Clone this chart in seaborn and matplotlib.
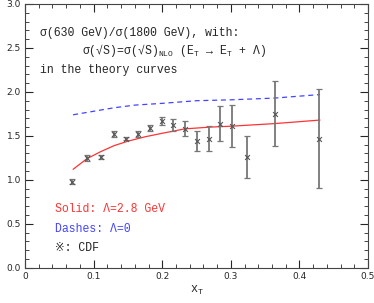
import matplotlib
matplotlib.use("Agg")
import matplotlib.pyplot as plt
from matplotlib.ticker import MultipleLocator
import seaborn as sns
import numpy as np

# CDF ratio data
xt_data = [0.069, 0.091, 0.111, 0.129, 0.147, 0.164, 0.182, 0.200, 0.216, 0.233,
           0.250, 0.268, 0.284, 0.301, 0.324, 0.364, 0.429]
ratio = [0.98, 1.25, 1.26, 1.52, 1.47, 1.52, 1.59, 1.67, 1.62, 1.58,
         1.44, 1.47, 1.64, 1.61, 1.26, 1.75, 1.47]
ratio_err = [0.03, 0.03, 0.02, 0.03, 0.02, 0.03, 0.03, 0.05, 0.07, 0.085,
             0.115, 0.14, 0.20, 0.24, 0.235, 0.37, 0.56]

# theory curves
xt_solid = [0.07, 0.09, 0.11, 0.13, 0.15, 0.175, 0.20, 0.233, 0.27, 0.30, 0.364, 0.43]
solid = [1.12, 1.24, 1.32, 1.39, 1.44, 1.49, 1.53, 1.58, 1.60, 1.61, 1.64, 1.68]
xt_dash = [0.07, 0.10, 0.13, 0.16, 0.20, 0.25, 0.30, 0.364, 0.43]
dashes = [1.74, 1.78, 1.82, 1.85, 1.87, 1.90, 1.91, 1.93, 1.97]

sns.set_style("ticks")
plt.rcParams['font.family'] = ['DejaVu Sans']
mono = ['Liberation Mono', 'DejaVu Sans Mono']
plt.rcParams['mathtext.fontset'] = 'custom'
plt.rcParams['mathtext.rm'] = 'Liberation Mono'

fig = plt.figure(figsize=(3.74, 3.03), dpi=100)
ax = fig.add_axes([0.067, 0.116, 0.917, 0.871])

sns.lineplot(x=xt_solid, y=solid, color="#ff3333", lw=0.9, ax=ax)
sns.lineplot(x=xt_dash, y=dashes, color="#4444ff", lw=0.9, ax=ax, linestyle=(0, (4, 3)))
ax.errorbar(xt_data, ratio, yerr=ratio_err, fmt="none", ecolor="#777777",
            elinewidth=1.3, capsize=2.5, capthick=0.9)
sns.scatterplot(x=xt_data, y=ratio, marker="x", s=12, color="#555555",
                linewidth=0.8, ax=ax, zorder=5)

ax.set_xlim(0, 0.5)
ax.set_ylim(0, 3.0)
ax.set_xticks(np.arange(0, 0.51, 0.1))
ax.set_xticklabels(["0", "0.1", "0.2", "0.3", "0.4", "0.5"])
ax.set_yticks(np.arange(0, 3.01, 0.5))
ax.set_yticklabels(["0.0", "0.5", "1.0", "1.5", "2.0", "2.5", "3.0"])
ax.xaxis.set_minor_locator(MultipleLocator(0.02))
ax.yaxis.set_minor_locator(MultipleLocator(0.1))
ax.tick_params(which="both", direction="in", top=True, right=True, labelsize=6.5, pad=3)
ax.tick_params(which="major", length=6, width=0.8)
ax.tick_params(which="minor", length=3, width=0.6)
for s in ax.spines.values():
    s.set_linewidth(0.8)
    s.set_color("#444444")

ax.set_xlabel(r"x$_\mathregular{T}$", fontsize=8.5, family=mono, labelpad=2)

fs = 8.3
ax.text(0.022, 2.63, "σ(630 GeV)/σ(1800 GeV), with:", fontsize=fs, family=mono)
ax.text(0.083, 2.43, r"σ(√S)=σ(√S)$_\mathregular{NLO}$ (E$_\mathregular{T}$ → E$_\mathregular{T}$ + Λ)",
        fontsize=fs, family=mono)
ax.text(0.022, 2.21, "in the theory curves", fontsize=fs, family=mono)
ax.text(0.044, 0.63, "Solid: Λ=2.8 GeV", fontsize=fs, color="#ff3333", family=mono)
ax.text(0.044, 0.41, "Dashes: Λ=0", fontsize=fs, color="#4444ff", family=mono)
ax.text(0.044, 0.19, "※: CDF", fontsize=fs, color="#222222", family=mono + ['DejaVu Sans'])

fig.savefig("out.png", dpi=100)
